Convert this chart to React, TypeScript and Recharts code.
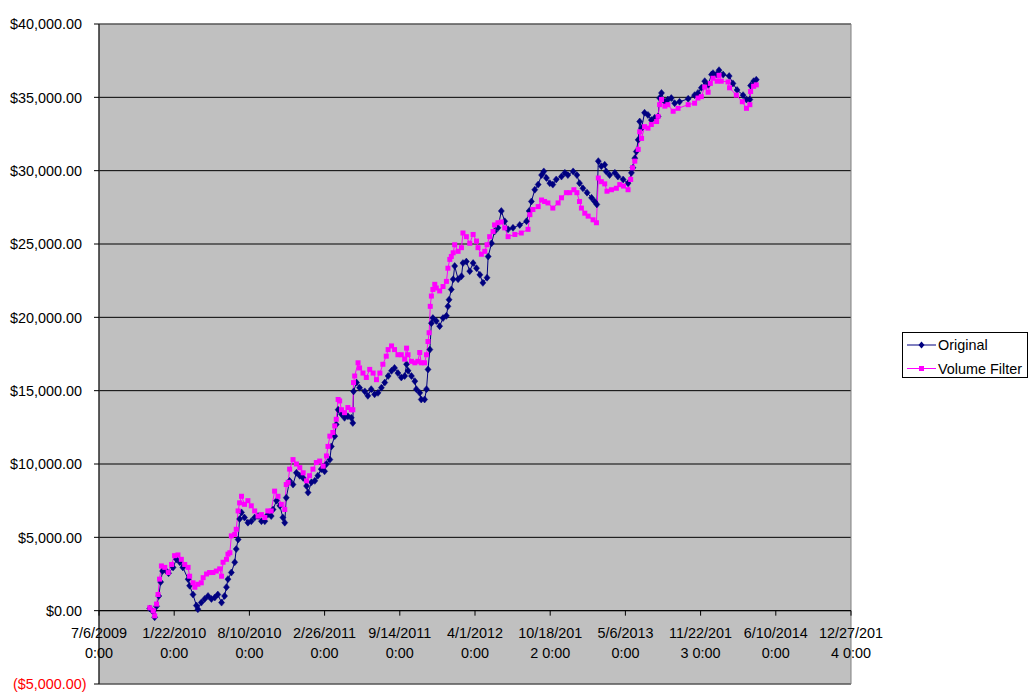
import React from "react";
import {
  LineChart,
  Line,
  XAxis,
  YAxis,
  CartesianGrid,
  ReferenceLine,
  ReferenceArea,
  Legend,
} from "recharts";

// Dates are Excel serial day numbers (40000 = 7/6/2009)
const origDates = [
  40135, 40143, 40148, 40153, 40159, 40164, 40169, 40177, 40185, 40197,
  40206, 40215, 40223, 40237, 40241, 40250, 40259, 40263, 40272, 40281,
  40290, 40299, 40308, 40316, 40326, 40334, 40339, 40343, 40352, 40361,
  40365, 40370, 40374, 40379, 40387, 40396, 40405, 40414, 40423, 40432,
  40441, 40449, 40458, 40463, 40472, 40481, 40489, 40494, 40498, 40507,
  40516, 40525, 40534, 40543, 40552, 40556, 40565, 40574, 40582, 40591,
  40600, 40605, 40614, 40618, 40627, 40631, 40636, 40645, 40653, 40662,
  40671, 40675, 40677, 40685, 40693, 40707, 40715, 40724, 40733, 40742,
  40751, 40760, 40769, 40778, 40786, 40795, 40804, 40813, 40818, 40822,
  40831, 40840, 40844, 40853, 40857, 40866, 40871, 40875, 40880, 40884,
  40888, 40897, 40906, 40915, 40924, 40928, 40931, 40937, 40942, 40946,
  40955, 40964, 40968, 40977, 40986, 40995, 41004, 41013, 41021, 41032,
  41035, 41044, 41052, 41061, 41070, 41079, 41088, 41101, 41119, 41137,
  41144, 41150, 41159, 41168, 41177, 41183, 41190, 41199, 41207, 41216,
  41230, 41239, 41247, 41261, 41271, 41278, 41287, 41298, 41310, 41318,
  41324, 41328, 41336, 41345, 41349, 41358, 41372, 41380, 41394, 41407,
  41416, 41420, 41425, 41429, 41434, 41438, 41443, 41451, 41460, 41469,
  41478, 41487, 41491, 41496, 41505, 41513, 41522, 41531, 41544, 41567,
  41584, 41593, 41602, 41611, 41620, 41629, 41633, 41642, 41649, 41660,
  41676, 41686, 41697, 41713, 41722, 41731, 41733, 41741, 41748,
];
const origValues = [
  150, -50, -450, 300, 1000, 1950, 2700, 2750, 2550, 2950,
  3500, 3300, 2950, 2150, 1700, 1100, 350, 100, 550, 800,
  1000, 800, 900, 1100, 550, 1000, 1600, 2150, 2600, 3300,
  4200, 4850, 6250, 6700, 6350, 6000, 6100, 6350, 6450, 6100,
  6100, 6550, 6450, 6900, 7500, 7150, 6350, 6000, 7700, 8850,
  8600, 9400, 9200, 9050, 8500, 8050, 8750, 8850, 9200, 9650,
  9500, 10000, 10300, 11200, 11900, 12700, 13700, 13400, 13150, 13250,
  13150, 12800, 14950, 15550, 15200, 14950, 14650, 15100, 14750, 14850,
  15200, 15550, 16000, 16350, 16550, 16200, 15900, 16000, 16800, 16350,
  16000, 15650, 15100, 14850, 14400, 14400, 15100, 16450, 17800, 19600,
  19950, 19750, 19400, 19950, 20100, 20750, 21200, 21900, 22600, 23500,
  22600, 22800, 23700, 23800, 23150, 23700, 23350, 22900, 22350, 22700,
  24150, 25050, 25850, 26100, 27250, 26550, 26000, 26100, 26300, 26550,
  27250, 27900, 28700, 29050, 29700, 29950, 29500, 29150, 29050, 29400,
  29600, 29850, 29700, 29950, 29700, 29150, 28800, 28500, 28150, 27900,
  27700, 30650, 30300, 30400, 29950, 29700, 29850, 29600, 29400, 29150,
  29850, 30200, 30850, 31300, 32100, 33350, 32900, 33950, 33800, 33450,
  33600, 33700, 34950, 35300, 34700, 34850, 34950, 34600, 34700, 34900,
  35150, 35300, 35650, 36100, 35850, 36550, 36650, 36550, 36850, 36550,
  36450, 35950, 35500, 35150, 34850, 34850, 35800, 36100, 36200,
];

const volDates = [
  40135, 40144, 40148, 40153, 40157, 40161, 40166, 40175, 40184, 40193,
  40201, 40210, 40219, 40228, 40237, 40241, 40250, 40255, 40263, 40272,
  40277, 40286, 40294, 40303, 40312, 40321, 40326, 40330, 40339, 40343,
  40348, 40352, 40361, 40365, 40370, 40374, 40379, 40387, 40396, 40405,
  40414, 40423, 40432, 40441, 40449, 40458, 40467, 40476, 40485, 40494,
  40498, 40503, 40507, 40516, 40525, 40534, 40543, 40552, 40560, 40569,
  40578, 40587, 40596, 40605, 40609, 40614, 40622, 40627, 40631, 40636,
  40640, 40645, 40653, 40662, 40671, 40675, 40677, 40680, 40689, 40693,
  40702, 40711, 40720, 40729, 40738, 40747, 40755, 40764, 40769, 40778,
  40786, 40795, 40804, 40813, 40818, 40822, 40831, 40840, 40848, 40853,
  40857, 40866, 40871, 40875, 40878, 40881, 40884, 40888, 40893, 40897,
  40906, 40915, 40924, 40928, 40933, 40937, 40942, 40946, 40955, 40964,
  40968, 40977, 40986, 40995, 41004, 41008, 41017, 41026, 41032, 41039,
  41048, 41052, 41061, 41070, 41079, 41088, 41106, 41123, 41141, 41146,
  41154, 41168, 41177, 41185, 41194, 41207, 41221, 41230, 41243, 41252,
  41263, 41271, 41278, 41283, 41292, 41301, 41314, 41323, 41328, 41336,
  41345, 41351, 41363, 41376, 41385, 41395, 41407, 41414, 41419, 41425,
  41434, 41438, 41443, 41451, 41460, 41469, 41483, 41487, 41491, 41496,
  41505, 41513, 41527, 41540, 41567, 41584, 41593, 41602, 41611, 41620,
  41626, 41633, 41644, 41649, 41655, 41673, 41677, 41695, 41711, 41722,
  41731, 41733, 41741, 41748,
];
const volValues = [
  200, 0, -350, 450, 1100, 2150, 3050, 2950, 2600, 3150,
  3750, 3800, 3500, 3150, 2950, 2350, 1900, 1600, 1800, 1900,
  2250, 2500, 2600, 2600, 2700, 2850, 2350, 3300, 3500, 3850,
  3950, 5100, 5200, 5550, 6800, 7350, 7800, 7250, 7500, 7150,
  6800, 6450, 6550, 6350, 6800, 6800, 8150, 7800, 7250, 6900,
  8600, 8750, 9650, 10300, 10000, 9750, 9400, 8850, 9200, 9650,
  10100, 10200, 9850, 10550, 11200, 11900, 12150, 12600, 13050, 14400,
  14300, 13700, 13500, 13850, 13700, 13700, 15550, 16000, 16900, 16550,
  16200, 15900, 16450, 16200, 15750, 16200, 16800, 17350, 17800, 18050,
  17800, 17450, 17450, 17150, 17900, 17450, 17000, 16900, 17000, 17600,
  16900, 16900, 17450, 18350, 18950, 20750, 21450, 21900, 22250, 22000,
  21800, 22100, 22450, 23350, 23950, 24150, 24400, 24950, 24500, 24750,
  25750, 25500, 25050, 25650, 25200, 24750, 24300, 24500, 24950, 25500,
  25850, 26300, 26450, 26500, 26100, 25500, 25650, 25750, 26000, 27000,
  27350, 27550, 28000, 27900, 27800, 27450, 27800, 28150, 28500, 28500,
  28700, 28500, 27900, 27450, 27100, 26900, 26650, 26450, 29500, 29250,
  29100, 28600, 28700, 28800, 29050, 28950, 28700, 29400, 30200, 30650,
  31450, 32650, 32200, 33000, 32900, 33150, 33350, 33700, 34500, 34850,
  34400, 34500, 34050, 34250, 34500, 34600, 34950, 35050, 35700, 35350,
  35950, 36300, 36100, 36500, 36100, 36050, 35650, 35150, 34700, 34250,
  34500, 35400, 35750, 35850,
];

const seriesNames = ["Original", "Volume Filter"];
const xTicks = [40000, 40200, 40400, 40600, 40800, 41000, 41200, 41400, 41600, 41800, 42000];
const yTicks = [-5000, 0, 5000, 10000, 15000, 20000, 25000, 30000, 35000, 40000];

const origData = origDates.map((d, i) => ({ date: d, value: origValues[i] }));
const volData = volDates.map((d, i) => ({ date: d, value: volValues[i] }));

const W = 1035;
const H = 699;
const MARGIN = { top: 24, right: 7, bottom: 0, left: 0 };
const Y_AXIS_W = 99;
const X_AXIS_H = 15;
const LEGEND_W = 177;
const X_MIN = xTicks[0];
const X_MAX = xTicks[xTicks.length - 1];
const Y_MIN = yTicks[0];
const Y_MAX = yTicks[yTicks.length - 1];
const PLOT_H = H - MARGIN.top - MARGIN.bottom - X_AXIS_H;
const ZERO_SHIFT = (PLOT_H * (0 - Y_MIN)) / (Y_MAX - Y_MIN);

const FONT = "'Liberation Sans', Arial, sans-serif";
const FS = 14.4;
const NAVY = "#000080";
const MAGENTA = "#FF00FF";

function serialToDateStr(s: number): string {
  const d = new Date(Date.UTC(1899, 11, 30) + s * 86400000);
  return `${d.getUTCMonth() + 1}/${d.getUTCDate()}/${d.getUTCFullYear()}`;
}

function wrapLabel(s: number): [string, string] {
  const ds = serialToDateStr(s);
  if (ds.length <= 9) return [ds, "0:00"];
  return [ds.slice(0, 9), ds.slice(9) + " 0:00"];
}

function money(v: number): string {
  const a = Math.abs(v).toLocaleString("en-US", {
    minimumFractionDigits: 2,
    maximumFractionDigits: 2,
  });
  return v < 0 ? `($${a})` : `$${a}`;
}

const YTick = (props: any) => {
  const { x, y, payload } = props;
  const v = payload.value as number;
  const neg = v < 0;
  return (
    <text
      x={neg ? x + 4.5 : x}
      y={y}
      dy="0.36em"
      textAnchor="end"
      fill={neg ? "#FF0000" : "#000000"}
      fontFamily={FONT}
      fontSize={FS}
    >
      {money(v)}
    </text>
  );
};

const XTick = (props: any) => {
  const { x, y, payload } = props;
  const y0 = y - ZERO_SHIFT;
  const [l1, l2] = wrapLabel(payload.value as number);
  return (
    <g>
      <line x1={x} y1={y0} x2={x} y2={y0 + 5} stroke="#000" strokeWidth={1} />
      <text x={x} y={y0 + 27.8} textAnchor="middle" fill="#000" fontFamily={FONT} fontSize={FS}>
        {l1}
      </text>
      <text x={x} y={y0 + 47.2} textAnchor="middle" fill="#000" fontFamily={FONT} fontSize={FS}>
        {l2}
      </text>
    </g>
  );
};

const DiamondDot = (props: any) => {
  const { cx, cy, index } = props;
  if (cx == null || cy == null) return <g key={`od${index}`} />;
  return (
    <polygon
      key={`od${index}`}
      points={`${cx},${cy - 3.5} ${cx + 3},${cy} ${cx},${cy + 3.5} ${cx - 3},${cy}`}
      fill={NAVY}
      stroke={NAVY}
      strokeWidth={0.5}
    />
  );
};

const SquareDot = (props: any) => {
  const { cx, cy, index } = props;
  if (cx == null || cy == null) return <g key={`vd${index}`} />;
  return <rect key={`vd${index}`} x={cx - 2.5} y={cy - 2.5} width={5} height={5} fill={MAGENTA} />;
};

const LegendBox = () => (
  <div style={{ width: LEGEND_W, height: 46, position: "relative" }}>
    <div
      style={{
        position: "absolute",
        left: 51,
        top: 0,
        width: 124,
        height: 44,
        border: "1px solid #000",
        background: "#FFFFFF",
        fontFamily: FONT,
        fontSize: FS,
        color: "#000",
      }}
    >
      <svg width={124} height={44} style={{ position: "absolute", left: 0, top: 0 }}>
        <line x1={4} y1={12} x2={33} y2={12} stroke={NAVY} strokeWidth={1} />
        <polygon points={`18.5,8.5 21.5,12 18.5,15.5 15.5,12`} fill={NAVY} />
        <line x1={4} y1={35.5} x2={33} y2={35.5} stroke={MAGENTA} strokeWidth={1} />
        <rect x={16} y={33} width={5} height={5} fill={MAGENTA} />
        <text x={35} y={17} fontFamily={FONT} fontSize={FS} fill="#000">
          {seriesNames[0]}
        </text>
        <text x={35} y={40.5} fontFamily={FONT} fontSize={FS} fill="#000">
          {seriesNames[1]}
        </text>
      </svg>
    </div>
  </div>
);

export default function App() {
  return (
    <div style={{ position: "absolute", left: 0, top: 0, width: W, height: H, background: "#FFFFFF" }}>
      <LineChart width={W} height={H} margin={MARGIN}>
        <CartesianGrid vertical={false} stroke="#000000" fill="#C0C0C0" fillOpacity={1} />
        <XAxis
          type="number"
          dataKey="date"
          domain={[X_MIN, X_MAX]}
          ticks={xTicks}
          interval={0}
          height={X_AXIS_H}
          axisLine={false}
          tickLine={false}
          tickSize={0}
          tickMargin={0}
          tick={<XTick />}
          allowDataOverflow
        />
        <YAxis
          type="number"
          domain={[Y_MIN, Y_MAX]}
          ticks={yTicks}
          interval={0}
          width={Y_AXIS_W}
          axisLine={{ stroke: "#000000" }}
          tickLine={{ stroke: "#000000" }}
          tickSize={5}
          tickMargin={12}
          tick={<YTick />}
          allowDataOverflow
        />
        <ReferenceArea
          x1={X_MIN}
          x2={X_MAX}
          y1={Y_MIN}
          y2={Y_MAX}
          fill="none"
          fillOpacity={0}
          stroke="#808080"
          strokeWidth={1}
        />
        <ReferenceLine y={0} stroke="#000000" strokeWidth={1} />
        <Legend
          layout="vertical"
          align="right"
          verticalAlign="middle"
          content={<LegendBox />}
          wrapperStyle={{ width: LEGEND_W, height: 46, top: 332, right: MARGIN.right }}
        />
        <Line
          data={origData}
          dataKey="value"
          name={seriesNames[0]}
          type="linear"
          stroke={NAVY}
          strokeWidth={1}
          dot={(p: any) => <DiamondDot {...p} />}
          activeDot={false}
          isAnimationActive={false}
        />
        <Line
          data={volData}
          dataKey="value"
          name={seriesNames[1]}
          type="linear"
          stroke={MAGENTA}
          strokeWidth={1}
          dot={(p: any) => <SquareDot {...p} />}
          activeDot={false}
          isAnimationActive={false}
        />
      </LineChart>
    </div>
  );
}
